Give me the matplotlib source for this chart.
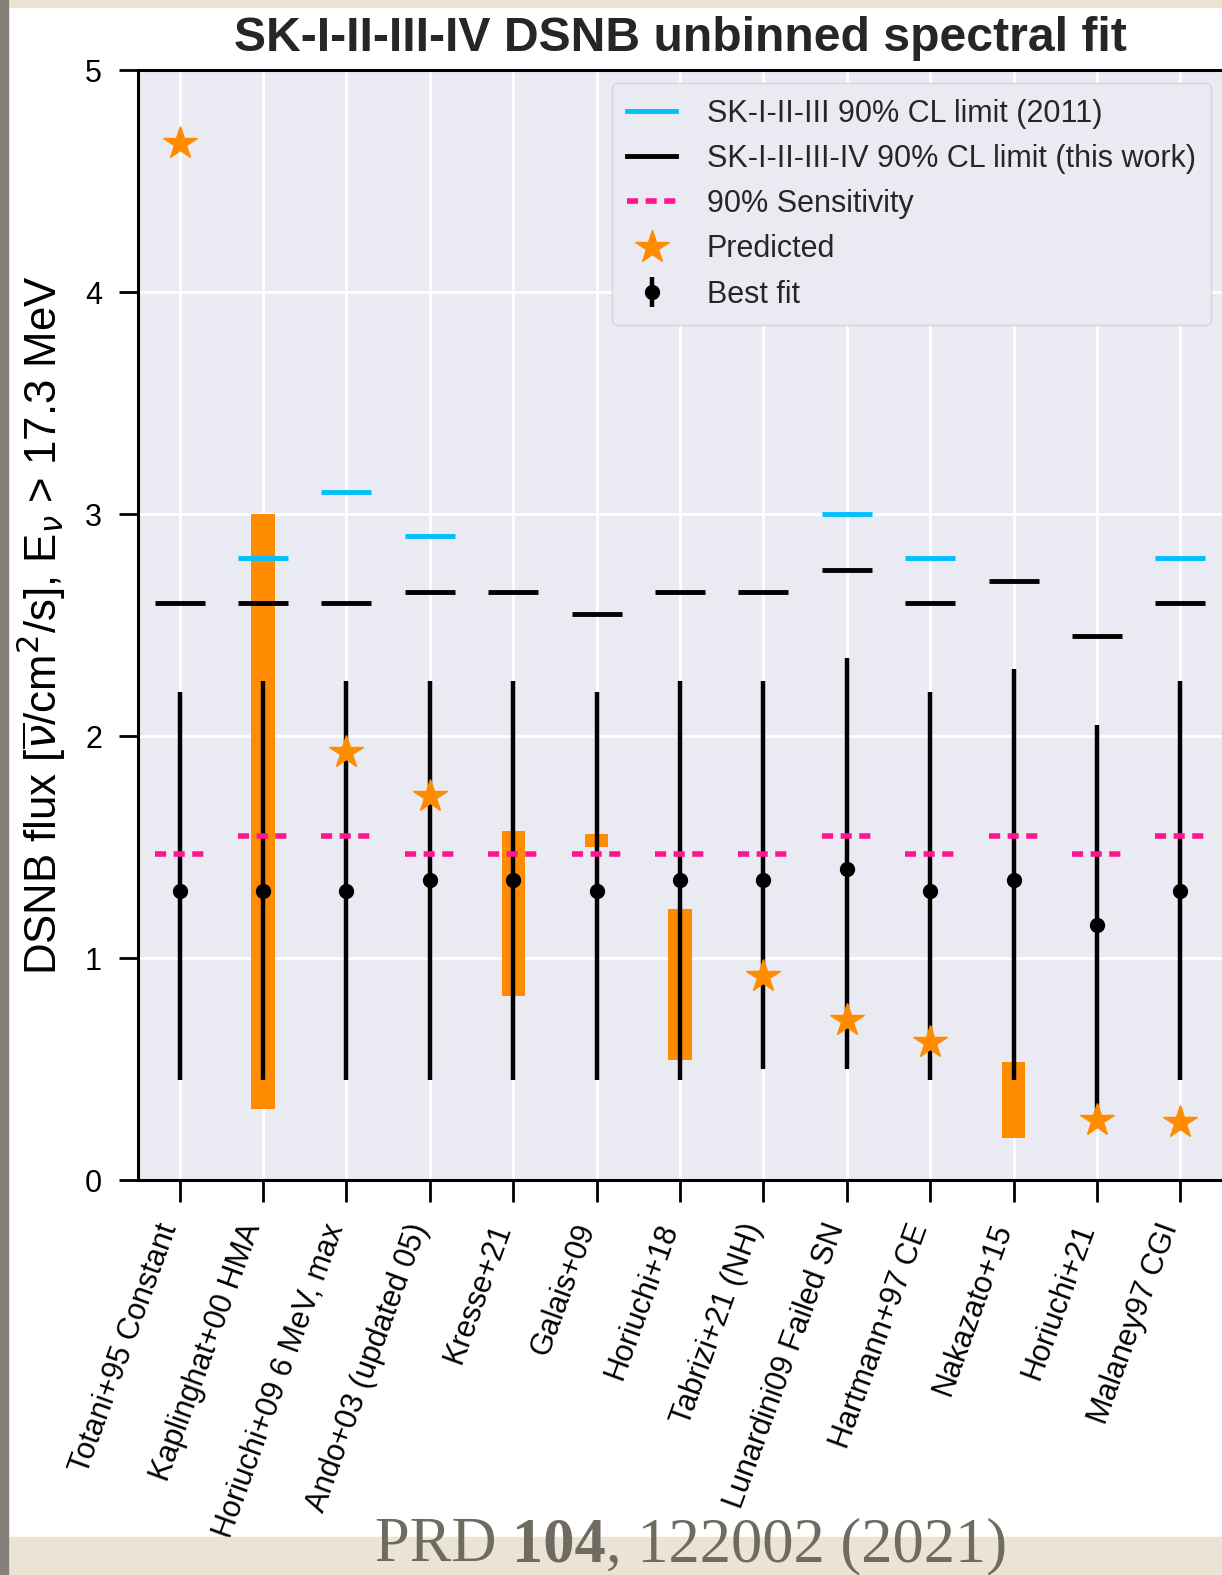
import numpy as np
import matplotlib

matplotlib.use('Agg')
import matplotlib.pyplot as plt
from matplotlib.lines import Line2D
from matplotlib.patches import Rectangle
from matplotlib.transforms import ScaledTranslation

plt.rcParams['font.family'] = ['Liberation Sans', 'DejaVu Sans']

labels = ["Totani+95 Constant", "Kaplinghat+00 HMA", "Horiuchi+09 6 MeV, max",
          "Ando+03 (updated 05)", "Kresse+21", "Galais+09", "Horiuchi+18",
          "Tabrizi+21 (NH)", "Lunardini09 Failed SN", "Hartmann+97 CE",
          "Nakazato+15", "Horiuchi+21", "Malaney97 CGI"]

nan = np.nan
limit_2011 = np.array([nan, 2.8, 3.1, 2.9, nan, nan, nan, nan, 3.0, 2.8, nan, nan, 2.8])
limit_new = np.array([2.6, 2.6, 2.6, 2.65, 2.65, 2.55, 2.65, 2.65, 2.75, 2.6, 2.7, 2.45, 2.6])
sensitivity = np.array([1.47, 1.55, 1.55, 1.47, 1.47, 1.47, 1.47, 1.47, 1.55, 1.47, 1.55, 1.47, 1.55])
best_fit = np.array([1.3, 1.3, 1.3, 1.35, 1.35, 1.3, 1.35, 1.35, 1.4, 1.3, 1.35, 1.15, 1.3])
fit_low = np.array([0.45, 0.45, 0.45, 0.45, 0.45, 0.45, 0.45, 0.5, 0.5, 0.45, 0.45, 0.3, 0.45])
fit_high = np.array([2.2, 2.25, 2.25, 2.25, 2.25, 2.2, 2.25, 2.25, 2.35, 2.2, 2.3, 2.05, 2.25])
pred_star = np.array([4.67, nan, 1.93, 1.73, nan, nan, nan, 0.92, 0.72, 0.62, nan, 0.27, 0.26])
pred_lo = np.array([nan, 0.32, nan, nan, 0.83, 1.50, 0.54, nan, nan, nan, 0.19, nan, nan])
pred_hi = np.array([nan, 3.0, nan, nan, 1.57, 1.56, 1.22, nan, nan, nan, 0.53, nan, nan])

orange = '#FF8C00'
cyan = '#00BFFF'
pink = '#FF1493'
dash = (0, (2.0, 1.35))

W, H = 1222, 1575
fig = plt.figure(figsize=(W / 100, H / 100), dpi=100)
fig.patch.set_facecolor('white')

# frame decoration (scanned page border)
fig.patches.append(Rectangle((0, 0), 1, 38 / H, transform=fig.transFigure, color='#ebe4d4', zorder=0))
fig.patches.append(Rectangle((0, 1 - 7 / H), 1, 7 / H, transform=fig.transFigure, color='#ebe4d4', zorder=0))
fig.patches.append(Rectangle((0, 0), 8 / W, 1, transform=fig.transFigure, color='#85817a', zorder=0))

ax = fig.add_axes([138 / W, 1 - 1180 / H, 1084 / W, 1110 / H])
ax.set_facecolor('#EAEAF2')
ax.set_axisbelow(True)
ax.grid(True, color='white', lw=2)

x = np.arange(len(labels))
half = 0.3

m = ~np.isnan(pred_lo)
ax.bar(x[m], pred_hi[m] - pred_lo[m], bottom=pred_lo[m], width=0.28, color=orange, zorder=2)

eb = ax.errorbar(x, best_fit, yerr=[best_fit - fit_low, fit_high - best_fit], fmt='o',
                 color='black', ms=10, elinewidth=3.2, capsize=0, zorder=3)

ax.hlines(limit_new, x - half, x + half, colors='black', lw=3.5, zorder=4)
m = ~np.isnan(limit_2011)
ax.hlines(limit_2011[m], x[m] - half, x[m] + half, colors=cyan, lw=3.5, zorder=4)
ax.hlines(sensitivity, x - half, x + half, colors=pink, lw=4, linestyles=dash, zorder=4)

ax.plot(x, pred_star, '*', color=orange, ms=25, linestyle='none', zorder=5)

ax.set_xlim(-0.5, len(labels) - 0.5)
ax.set_ylim(0, 5)
ax.set_yticks([0, 1, 2, 3, 4, 5])
ax.set_xticks(x, labels, rotation=70, ha='right', va='center', rotation_mode='anchor')
ax.tick_params(axis='x', length=16, width=2, pad=16, labelsize=22, colors='black')
ax.tick_params(axis='y', length=14, width=2, pad=12, labelsize=22, colors='black')
shift = ScaledTranslation(-7 / 72, 0, fig.dpi_scale_trans)
for lab in ax.get_xticklabels():
    lab.set_transform(lab.get_transform() + shift)
for s in ['top', 'left', 'bottom']:
    ax.spines[s].set_color('black')
    ax.spines[s].set_linewidth(2.2)
ax.spines['right'].set_visible(False)

ax.set_ylabel(r'DSNB flux [$\overline{\nu}$/cm$^2$/s], E$_\nu$ > 17.3 MeV', fontsize=31.5, labelpad=12)
ax.set_title('SK-I-II-III-IV DSNB unbinned spectral fit', fontsize=34.7, fontweight='bold',
             color='#262626', pad=14)

handles = [Line2D([], [], color=cyan, lw=3.5),
           Line2D([], [], color='black', lw=3.5),
           Line2D([], [], color=pink, lw=4, linestyle=dash),
           Line2D([], [], color=orange, marker='*', ms=25, linestyle='none'),
           eb]
names = ['SK-I-II-III 90% CL limit (2011)', 'SK-I-II-III-IV 90% CL limit (this work)',
         '90% Sensitivity', 'Predicted', 'Best fit']
leg = ax.legend(handles, names, loc='upper right', bbox_to_anchor=(0.99, 0.988), fontsize=22,
                handlelength=1.6, handletextpad=1.0, labelspacing=0.5, borderpad=0.5,
                borderaxespad=0, facecolor='#EAEAF2', edgecolor='#d5d5dd', framealpha=1,
                fancybox=True)
for t in leg.get_texts():
    t.set_color('#262626')

# citation caption with bold volume number
r = fig.canvas.get_renderer()
cap = dict(family='Liberation Serif', fontsize=45, color='#6f6b62', va='baseline')
xpos = 375 / W
ybase = 1 - 1561 / H
for part, wt in [('PRD ', 'normal'), ('104', 'bold'), (', 122002 (2021)', 'normal')]:
    t = fig.text(xpos, ybase, part, fontweight=wt, **cap)
    bb = t.get_window_extent(renderer=r)
    xpos = bb.x1 / W

fig.savefig('out.png', dpi=100)
